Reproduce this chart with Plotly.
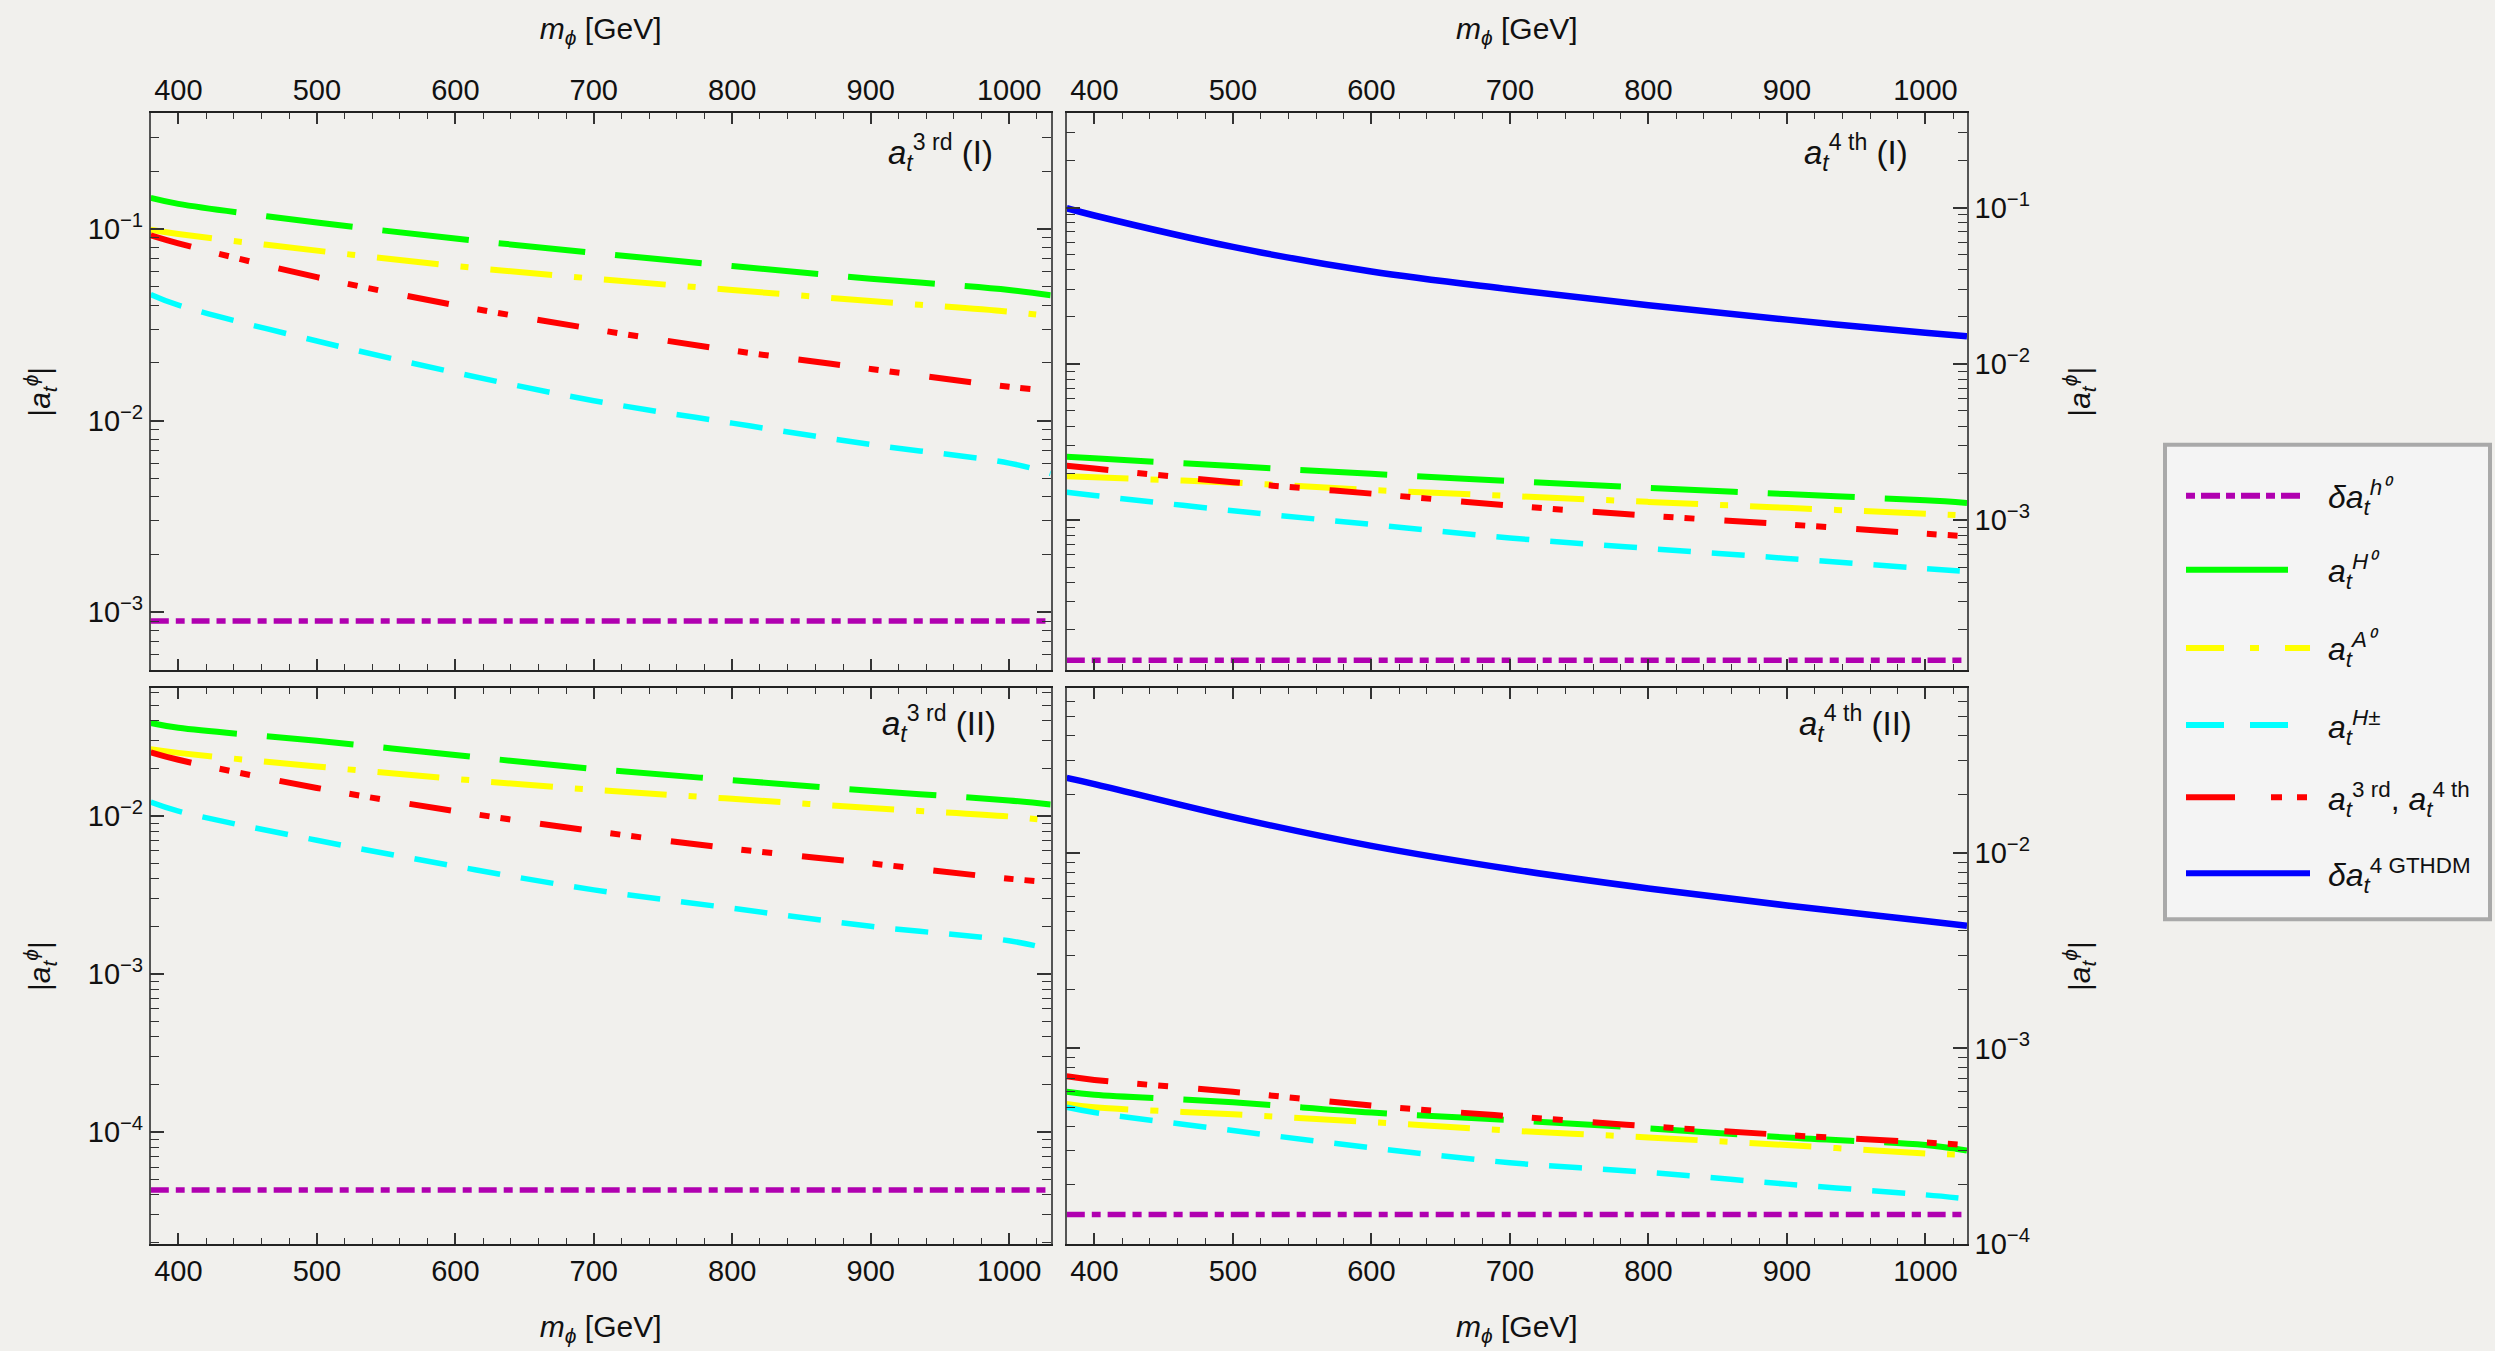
import math
import plotly.graph_objects as go

# ---------------- data ----------------
m_phi = [380, 400, 500, 600, 700, 800, 900, 1000, 1030]

# panel a_t^{3rd} (I)
p1_h0 = [9.0e-4, 9.0e-4, 9.0e-4, 9.0e-4, 9.0e-4, 9.0e-4, 9.0e-4, 9.0e-4, 9.0e-4]
p1_H0 = [0.145, 0.135, 0.108, 0.089, 0.075, 0.064, 0.055, 0.048, 0.045]
p1_A0 = [0.099, 0.094, 0.077, 0.064, 0.055, 0.048, 0.042, 0.037, 0.035]
p1_Hpm = [0.0455, 0.040, 0.026, 0.0178, 0.0127, 0.0097, 0.0075, 0.0060, 0.0053]
p1_34 = [0.0925, 0.084, 0.056, 0.040, 0.030, 0.0232, 0.0186, 0.0150, 0.0143]

# panel a_t^{4th} (I)
p2_h0 = [1.27e-4, 1.27e-4, 1.27e-4, 1.27e-4, 1.27e-4, 1.27e-4, 1.27e-4, 1.27e-4, 1.27e-4]
p2_H0 = [0.00255, 0.00249, 0.00222, 0.00198, 0.00178, 0.00161, 0.00147, 0.00134, 0.00129]
p2_A0 = [0.00191, 0.00188, 0.00174, 0.00156, 0.00143, 0.00131, 0.00120, 0.00110, 0.00107]
p2_Hpm = [0.00151, 0.00144, 0.00115, 0.00094, 0.00077, 0.00066, 0.00057, 0.00049, 0.00047]
p2_34 = [0.00223, 0.00214, 0.00175, 0.00148, 0.00124, 0.00107, 0.00094, 0.00082, 0.00079]
p2_G = [0.099, 0.089, 0.056, 0.039, 0.030, 0.0237, 0.0192, 0.0158, 0.0150]

# panel a_t^{3rd} (II)
p3_h0 = [4.3e-5, 4.3e-5, 4.3e-5, 4.3e-5, 4.3e-5, 4.3e-5, 4.3e-5, 4.3e-5, 4.3e-5]
p3_H0 = [0.0386, 0.036, 0.0298, 0.0242, 0.0198, 0.0168, 0.0144, 0.0125, 0.0118]
p3_A0 = [0.0264, 0.025, 0.0205, 0.0171, 0.0146, 0.0128, 0.0112, 0.0099, 0.0093]
p3_Hpm = [0.0122, 0.0107, 0.0070, 0.0048, 0.0034, 0.0026, 0.0020, 0.00162, 0.00143]
p3_34 = [0.0252, 0.0226, 0.0150, 0.0107, 0.0080, 0.0062, 0.0050, 0.0040, 0.0038]

# panel a_t^{4th} (II)
p4_h0 = [1.41e-4, 1.41e-4, 1.41e-4, 1.41e-4, 1.41e-4, 1.41e-4, 1.41e-4, 1.41e-4, 1.41e-4]
p4_H0 = [0.00060, 0.00058, 0.00053, 0.00047, 0.00043, 0.00039, 0.00035, 0.00032, 0.00030]
p4_A0 = [0.00052, 0.00050, 0.00046, 0.00042, 0.00038, 0.00035, 0.00032, 0.00029, 0.000285]
p4_Hpm = [0.00050, 0.00047, 0.00038, 0.00031, 0.00026, 0.000232, 0.000202, 0.000178, 0.00017]
p4_34 = [0.00072, 0.00069, 0.00060, 0.00051, 0.00045, 0.00040, 0.00036, 0.00033, 0.00032]
p4_G = [0.0243, 0.0226, 0.0153, 0.0109, 0.0083, 0.0066, 0.0054, 0.0045, 0.00425]

x_ticks = [400, 500, 600, 700, 800, 900, 1000]
panel_titles = ["<i>a</i><sub><i>t</i></sub><sup>3 rd</sup> (I)",
                "<i>a</i><sub><i>t</i></sub><sup>4 th</sup> (I)",
                "<i>a</i><sub><i>t</i></sub><sup>3 rd</sup> (II)",
                "<i>a</i><sub><i>t</i></sub><sup>4 th</sup> (II)"]
legend_labels = ["<i>δa</i><sub><i>t</i></sub><sup><i>h⁰</i></sup>",
                 "<i>a</i><sub><i>t</i></sub><sup><i>H⁰</i></sup>",
                 "<i>a</i><sub><i>t</i></sub><sup><i>A⁰</i></sup>",
                 "<i>a</i><sub><i>t</i></sub><sup><i>H</i>±</sup>",
                 "<i>a</i><sub><i>t</i></sub><sup>3 rd</sup>, <i>a</i><sub><i>t</i></sub><sup>4 th</sup>",
                 "<i>δa</i><sub><i>t</i></sub><sup>4 GTHDM</sup>"]

# ---------------- styles ----------------
W, H = 2495, 1369          # page height as photographed (rescaled to 1351)
REF_W, REF_H = 2495, 1351  # reference pixel grid used for placement
FONT = "Liberation Sans, Arial, Helvetica, sans-serif"
BG = "#f1f0ed"
C_h0, C_H0, C_A0, C_Hpm, C_34, C_G = "#b000b0", "#00ff00", "#ffff00", "#00ffff", "#ff0000", "#0000ff"
D_h0 = "18px,7px,9px,7px"
D_H0 = "87px,30px"
D_A0 = "62px,22px,8px,22px"
D_Hpm = "33px,21px"
D_34 = "42px,29px,10px,11px,10px,30px"

def px_x(p):
    return p / REF_W

def px_y(p):
    return 1 - p / REF_H

xdom_L = [px_x(150.7), px_x(1050.7)]
xdom_R = [px_x(1066.7), px_x(1967.0)]
ydom_T = [px_y(669.0), px_y(113.3)]
ydom_B = [px_y(1242.3), px_y(687.0)]

fig = go.Figure()

panels = [
    ("x", "y", [p1_h0, p1_H0, p1_A0, p1_Hpm, p1_34], None),
    ("x2", "y2", [p2_h0, p2_H0, p2_A0, p2_Hpm, p2_34], p2_G),
    ("x3", "y3", [p3_h0, p3_H0, p3_A0, p3_Hpm, p3_34], None),
    ("x4", "y4", [p4_h0, p4_H0, p4_A0, p4_Hpm, p4_34], p4_G),
]
styles = [(C_h0, D_h0, 5.5), (C_H0, D_H0, 6), (C_A0, D_A0, 6), (C_Hpm, D_Hpm, 5.5), (C_34, D_34, 6)]
for xa, ya, series, gthdm in panels:
    for vals, (col, dash, w) in zip(series, styles):
        fig.add_trace(go.Scatter(x=m_phi, y=vals, xaxis=xa, yaxis=ya, mode="lines",
                                 line=dict(color=col, dash=dash, width=w, shape="spline"),
                                 showlegend=False, hoverinfo="skip"))
    if gthdm is not None:
        fig.add_trace(go.Scatter(x=m_phi, y=gthdm, xaxis=xa, yaxis=ya, mode="lines",
                                 line=dict(color=C_G, width=6.5, shape="spline"),
                                 showlegend=False, hoverinfo="skip"))

tickfont = dict(family=FONT, size=29, color="#111")
titlefont = dict(family=FONT, size=30, color="#111")
xtitle = "<i>m</i><sub><i>ϕ</i></sub> [GeV]"
ytitle = "|<i>a</i><sub><i>t</i></sub><sup><i>ϕ</i></sup>|"

def xaxis(domain, anchor, side, standoff):
    return dict(domain=domain, anchor=anchor, side=side, range=[380, 1030],
                tickmode="array", tickvals=x_ticks, ticks="inside", ticklen=11,
                tickwidth=1.5, tickcolor="#333", mirror="allticks", showline=True,
                linecolor="#222", linewidth=1.5, showgrid=False, zeroline=False,
                minor=dict(ticks="inside", ticklen=6, tickwidth=1.2, tickcolor="#333",
                           dtick=20, tick0=0, showgrid=False),
                tickfont=tickfont,
                title=dict(text=xtitle, font=titlefont, standoff=standoff))

def yaxis(domain, anchor, side, lo, hi, decades, standoff):
    minors = []
    for d in range(decades[0] - 1, decades[-1] + 1):
        for k in range(2, 10):
            v = k * 10.0 ** d
            if lo <= math.log10(v) <= hi:
                minors.append(v)
    return dict(domain=domain, anchor=anchor, side=side, type="log", range=[lo, hi],
                tickmode="array", tickvals=[10.0 ** d for d in decades],
                ticktext=["10<sup>−%d</sup>" % (-d) for d in decades],
                ticks="inside", ticklen=14, tickwidth=1.5, tickcolor="#333",
                mirror="allticks", showline=True, linecolor="#555", linewidth=1.5,
                showgrid=False, zeroline=False,
                minor=dict(ticks="inside", ticklen=9, tickwidth=1.2, tickcolor="#333",
                           tickmode="array", tickvals=minors, showgrid=False),
                tickfont=tickfont,
                title=dict(text=ytitle, font=titlefont, standoff=standoff))

fig.update_layout(
    width=W, height=H, margin=dict(l=0, r=0, t=0, b=0),
    paper_bgcolor=BG, plot_bgcolor=BG, showlegend=False,
    font=dict(family=FONT, color="#111"),
    xaxis=xaxis(xdom_L, "y", "top", 26),
    xaxis2=xaxis(xdom_R, "y2", "top", 26),
    xaxis3=xaxis(xdom_L, "y3", "bottom", 30),
    xaxis4=xaxis(xdom_R, "y4", "bottom", 30),
    yaxis=yaxis(ydom_T, "x", "left", -3.301, -0.398, [-3, -2, -1], 28),
    yaxis2=yaxis(ydom_T, "x2", "right", -3.958, -0.398, [-3, -2, -1], 40),
    yaxis3=yaxis(ydom_B, "x3", "left", -4.709, -1.192, [-4, -3, -2], 28),
    yaxis4=yaxis(ydom_B, "x4", "right", -4.002, -1.154, [-4, -3, -2], 40),
)

# panel titles
title_pos = [(995, 152), (1910, 152), (998, 722), (1914, 722)]
for txt, (px, py) in zip(panel_titles, title_pos):
    fig.add_annotation(text=txt, x=px_x(px), y=px_y(py), xref="paper", yref="paper",
                       xanchor="right", yanchor="middle", showarrow=False,
                       font=dict(family=FONT, size=33, color="#111"))

# legend box
fig.add_shape(type="rect", xref="paper", yref="paper",
              x0=px_x(2165), x1=px_x(2490), y0=px_y(918), y1=px_y(444),
              line=dict(color="#a9a9a9", width=4), fillcolor="#f4f4f4", layer="below")
leg_rows = [495, 569, 647, 724, 796, 872]
leg_len = [2301, 2288, 2310, 2288, 2307, 2310]
leg_style = [(C_h0, "9px,6px,19px,6px"), (C_H0, "solid"), (C_A0, "38px,26px,9px,26px"),
             (C_Hpm, "38px,26px"), (C_34, "49px,36px,11px,15px,11px,30px"), (C_G, "solid")]
for py, x1, (col, dash), lab in zip(leg_rows, leg_len, leg_style, legend_labels):
    fig.add_shape(type="line", xref="paper", yref="paper",
                  x0=px_x(2186), x1=px_x(x1), y0=px_y(py), y1=px_y(py),
                  line=dict(color=col, width=6, dash=dash))
    fig.add_annotation(text=lab, x=px_x(2326), y=px_y(py + 2), xref="paper", yref="paper",
                       xanchor="left", yanchor="middle", showarrow=False,
                       font=dict(family=FONT, size=32, color="#111"))

fig.write_html("out.html", config={"displayModeBar": False},
               post_script="document.body.style.margin='0';"
                           "document.body.style.overflow='hidden';"
                           "document.documentElement.style.background='%s';"
                           "document.body.style.background='%s';" % (BG, BG))
